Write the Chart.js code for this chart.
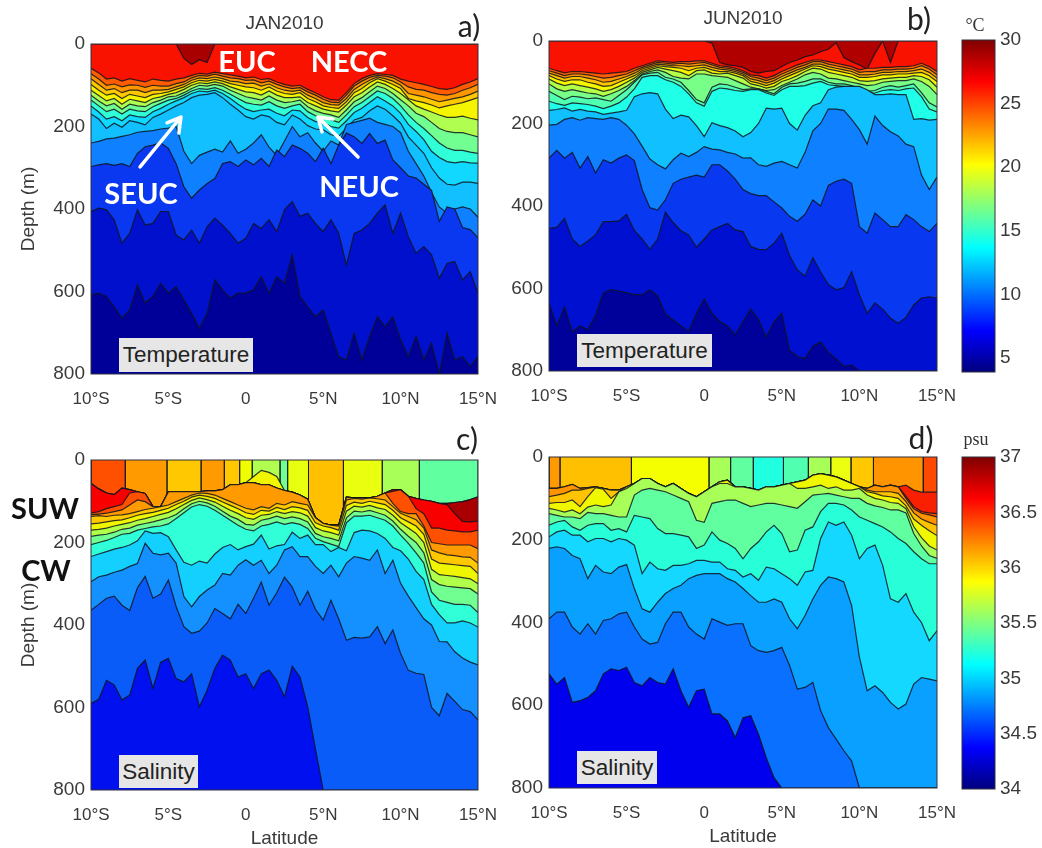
<!DOCTYPE html>
<html><head><meta charset="utf-8">
<script src="https://cdn.jsdelivr.net/npm/chart.js@4"></script>
<style>
html,body{margin:0;padding:0;background:#fff;overflow:hidden;width:1042px;height:848px}
canvas{position:absolute;filter:blur(0.4px)}
.t{position:absolute;white-space:nowrap;transform:translate(-50%,-50%);line-height:1}
.lab{font-family:Lato,"Noto Sans",sans-serif;font-weight:700}
.let{font-family:Lato,"Noto Sans",sans-serif;font-size:30px;color:#222}
.box{position:absolute;background:#e6e6e6;color:#222;font:22.5px "Liberation Sans",sans-serif;display:flex;align-items:center;justify-content:center}
.unit{font-family:"Liberation Serif",serif;font-size:18px;color:#333}
</style></head><body>
<canvas id="pa"></canvas><canvas id="pb"></canvas><canvas id="pc"></canvas><canvas id="pd"></canvas>
<canvas id="ct"></canvas><canvas id="cs"></canvas>
<div class="t let" style="left:469px;top:25px">a)</div>
<div class="t let" style="left:919px;top:18px">b)</div>
<div class="t let" style="left:467px;top:438px">c)</div>
<div class="t let" style="left:921px;top:437px">d)</div>
<div class="t unit" style="left:975px;top:25px">°C</div>
<div class="t unit" style="left:976px;top:439px">psu</div>
<div class="t lab" style="left:247px;top:60px;font-size:29px;color:#fff">EUC</div>
<div class="t lab" style="left:349px;top:60px;font-size:29px;color:#fff">NECC</div>
<div class="t lab" style="left:141px;top:192px;font-size:29px;color:#fff">SEUC</div>
<div class="t lab" style="left:359px;top:185px;font-size:29px;color:#fff">NEUC</div>
<div class="t lab" style="left:45px;top:507px;font-size:29px;color:#111">SUW</div>
<div class="t lab" style="left:46px;top:569px;font-size:29px;color:#111">CW</div>
<div class="box" style="left:119px;top:338px;width:134px;height:34px">Temperature</div>
<div class="box" style="left:577px;top:334px;width:135px;height:33px">Temperature</div>
<div class="box" style="left:119px;top:755px;width:79px;height:33px">Salinity</div>
<div class="box" style="left:577px;top:751px;width:80px;height:33px">Salinity</div>
<script>
const lats=[-10,-9.5,-9,-8.5,-8,-7.5,-7,-6.5,-6,-5.5,-5,-4.5,-4,-3.5,-3,-2.5,-2,-1.5,-1,-0.5,0,0.5,1,1.5,2,2.5,3,3.5,4,4.5,5,5.5,6,6.5,7,7.5,8,8.5,9,9.5,10,10.5,11,11.5,12,12.5,13,13.5,14,14.5,15];
const xTickLabels=['10°S','5°S','0','5°N','10°N','15°N'];
const yTicks=[0,200,400,600,800];
const tempTicks=[5,10,15,20,25,30];
const salTicks=[34,34.5,35,35.5,36,36.5,37];
const jetStops=[[0,'#00007f'],[0.125,'#0000ff'],[0.375,'#00ffff'],[0.625,'#ffff00'],[0.875,'#ff0000'],[1,'#7f0000']];

// JAN2010 temperature contours (depth, m), shallow to deep
const a0=[0,0,0,0,0,0,0,0,0,0, 0,0,35,50,38,45,0,0,0,0, 0,0,0,0,0,0,0,0,0,0, 0,0,0,0,0,0,0,0,0,0, 0,0,0,0,0,0,0,0,0,0, 0];
const a1=[59,70,85,82,90,84,88,92,85,88, 90,85,82,76,71,73,68,72,75,78, 82,80,86,84,92,98,102,100,110,118, 128,135,136,118,96,84,76,72,74,76, 85,90,94,98,103,108,110,106,98,92, 84];
const a2=[72,85,100,97,104,99,100,105,100,102, 102,96,92,82,76,78,73,78,82,84, 88,87,94,90,98,104,108,106,116,124, 134,141,142,124,102,90,81,76,78,82, 92,104,110,112,118,122,124,120,112,106, 98];
const a3=[84,98,112,108,118,112,112,118,112,112, 110,104,98,88,82,84,80,84,90,92, 96,95,102,97,106,112,115,112,124,132, 142,147,148,132,110,98,88,80,84,90, 100,120,124,128,134,140,136,132,128,122, 114];
const a4=[98,112,124,120,132,122,126,130,122,120, 116,110,104,94,88,90,86,90,96,100, 104,106,112,104,114,120,122,118,132,140, 150,154,156,140,118,108,94,84,90,98, 108,132,138,142,148,155,150,146,142,136, 130];
const a5=[112,125,138,132,146,134,138,142,132,128, 122,118,110,100,94,96,92,96,104,110, 116,118,124,114,124,130,130,128,142,150, 158,162,165,148,128,118,104,92,98,108, 120,135,150,158,165,172,178,178,175,180, 184];
const a6=[124,138,150,144,158,146,150,152,142,136, 128,126,118,108,100,102,98,102,112,120, 128,132,136,126,136,142,140,136,152,162, 168,172,178,160,140,130,116,102,108,120, 135,150,168,176,190,205,212,215,215,220, 225];
const a7=[136,150,164,158,170,158,162,164,152,144, 136,132,124,114,108,110,106,112,122,132, 142,146,148,140,150,156,150,146,164,174, 178,184,190,172,152,142,128,114,120,132, 150,172,190,205,222,240,252,258,258,262, 265];
const a8=[150,165,182,176,186,172,176,178,164,156, 146,138,130,120,114,116,112,120,132,146, 158,164,160,158,168,174,160,162,178,188, 190,200,204,186,166,156,142,128,138,150, 168,195,212,232,260,275,285,288,285,288, 289];
const a9=[170,182,205,192,202,186,190,196,178,170, 160,150,142,130,124,122,118,130,146,160, 176,182,172,176,190,196,172,182,198,206, 208,220,224,204,184,178,162,150,158,174, 192,225,245,265,300,325,340,342,335,335, 338];
const a10=[240,236,230,228,224,220,214,212,210,206, 204,200,260,290,270,262,255,262,235,265, 255,240,220,250,270,235,200,225,215,240, 260,235,245,195,190,185,180,190,195,200, 215,260,290,320,360,395,410,400,395,400, 420];
const a11=[297,293,290,294,290,297,265,249,245,240, 253,290,346,374,354,338,326,290,285,297, 281,293,277,297,257,273,245,253,265,285, 253,290,245,216,225,241,217,241,233,281, 300,320,325,340,355,430,395,400,445,450, 470];
const a12=[406,398,402,426,483,459,402,439,435,406, 406,463,475,451,483,443,422,439,459,483, 471,435,447,426,455,402,382,418,410,435, 455,426,459,536,459,451,435,410,390,459, 410,467,507,491,511,568,532,527,572,552, 604];
const a13=[608,604,612,637,665,645,584,628,612,580, 604,588,620,653,689,653,572,596,616,604, 604,596,564,604,564,580,511,612,637,661, 645,701,758,766,701,766,709,661,685,661, 717,758,709,766,725,800,701,766,758,782, 758];

// JUN2010 temperature contours
const b0=[0,0,0,0,0,0,0,0,0,0, 0,0,0,0,0,0,0,0,0,0, 0,5,52,58,60,64,74,78,74,72, 62,52,46,38,34,26,20,4,40,50, 58,68,30,0,52,0,0,0,0,0, 0];
const b1=[66,72,77,74,74,76,78,80,78,76, 74,66,60,54,48,50,52,50,50,48, 48,54,60,62,66,72,82,84,90,84, 74,66,58,52,46,46,50,54,58,62, 70,66,66,64,64,62,62,60,54,62, 74];
const b2=[72,78,84,80,80,82,86,90,88,84, 80,72,64,58,52,54,56,54,56,54, 52,58,64,66,70,76,86,90,96,90, 80,72,64,58,50,50,56,60,64,68, 76,74,74,70,70,68,68,66,60,68, 82];
const b3=[78,84,90,86,86,90,94,100,98,92, 86,78,68,62,56,58,60,60,62,60, 58,64,68,70,74,80,92,96,102,96, 86,78,70,64,56,56,62,66,70,74, 82,82,80,76,76,74,74,72,68,76, 90];
const b4=[84,92,98,94,94,100,104,110,108,100, 92,84,72,66,60,62,64,66,72,66, 64,70,74,74,78,84,98,102,108,102, 92,84,76,68,60,62,68,72,76,80, 88,88,86,82,82,80,80,78,76,84, 98];
const b5=[92,102,108,104,108,112,116,122,118,110, 100,90,76,70,64,68,72,76,84,72, 70,78,80,78,84,90,104,108,114,110, 98,92,84,74,66,68,76,80,84,88, 96,98,96,92,90,88,88,84,86,94, 112];
const b6=[104,116,122,118,122,126,128,134,128,120, 110,96,80,74,70,76,86,90,92,80, 80,84,86,88,96,104,112,116,120,118, 108,100,92,82,76,80,90,92,96,100, 104,108,106,100,98,96,96,92,98,110, 130];
const b7=[122,132,142,134,136,140,138,142,146,132, 118,100,82,78,76,88,92,100,120,142, 150,112,104,106,112,118,116,116,122,128, 112,104,102,98,92,92,100,104,104,108, 114,122,120,112,108,112,108,104,125,150, 160];
const b8=[146,152,156,150,152,154,158,164,158,150, 136,116,88,84,84,94,100,110,128,150, 158,122,114,116,120,122,118,118,126,132, 118,110,110,108,102,98,106,108,110,114, 120,126,126,120,118,120,116,114,135,165, 172];
const b9=[168,166,162,170,166,170,172,178,175,172, 168,135,128,125,128,165,188,180,184,205, 232,198,205,210,218,232,222,200,163,165, 163,200,216,180,157,150,118,112,110,110, 110,118,130,130,128,130,130,190,188,192, 190];
const b10=[204,202,190,186,192,186,188,190,186,190, 204,225,255,286,300,310,288,272,280,270, 256,262,264,270,274,284,283,300,304,296, 292,300,308,270,218,200,165,165,168,190, 215,250,182,205,220,230,250,256,325,360, 330];
const b11=[284,265,284,270,308,280,320,288,296,284, 276,290,360,404,410,385,345,335,330,325, 330,300,300,315,335,360,370,375,375,390, 405,425,437,420,385,400,350,340,335,345, 450,466,417,433,450,450,421,433,450,462, 442];
const b12=[454,452,430,480,498,485,470,438,438,436, 420,460,480,505,480,415,440,460,470,500, 480,458,450,442,458,462,498,505,506,490, 466,520,555,570,525,560,590,603,598,559, 615,660,635,650,672,684,670,640,623,620, 623];
const b13=[635,690,645,705,690,700,665,611,603,606, 610,615,615,603,618,662,676,690,704,660, 625,660,680,690,712,680,650,675,718,680, 660,750,765,770,740,730,755,770,789,785, 800,800,800,800,800,800,800,800,800,800, 800];

// JAN2010 salinity: surface blocks then contours
const cBlockEdges=[-10,-7.8,-5.1,-2.9,-1.4,-0.4,0.4,2.2,2.7,4.05,6.3,8.8,11.2,15];
const cBlockColors=['#ff5000','#ff9a00','#ffc800','#ff9a00','#ffc800','#f0ff00','#b0ff50','#70ff90','#e8ff10','#ffc000','#eaff10','#a8ff58','#60ffa0'];
const c0=[57,70,80,84,68,72,77,81,113,113, 77,77,77,77,77,75,75,72,60,60, 55,40,25,30,40,74,78,85,95,140, 154,158,158,90,92,92,92,88,80,72, 72,88,93,97,100,105,105,103,101,96, 89];
const c1=[57,70,80,84,68,72,77,81,113,113, 77,77,77,77,77,75,75,72,60,60, 55,55,60,60,68,74,78,85,95,140, 154,158,158,90,92,92,92,88,80,72, 72,88,93,97,100,105,105,103,101,96, 89];
const c2=[57,70,80,84,68,72,77,81,113,113, 77,77,77,77,77,75,75,72,60,60, 55,55,60,60,68,74,78,85,95,140, 154,158,158,90,92,92,92,88,80,72, 72,88,93,97,100,105,108,130,149,150, 148];
const c3=[129,125,118,113,108,80,77,81,113,113, 77,77,77,77,77,75,75,72,60,60, 55,55,60,60,68,74,78,85,95,140, 154,158,158,90,92,92,92,88,80,76, 72,88,118,130,165,165,170,172,174,174, 170];
const c4=[133,131,129,125,121,109,97,101,113,113, 77,77,77,77,77,75,75,72,60,60, 55,55,60,60,68,74,78,85,95,140, 154,158,158,90,92,92,92,88,80,105, 125,130,130,160,200,203,206,206,206,206, 215];
const c5=[137,135,137,134,133,130,125,120,117,113, 109,101,93,85,80,81,85,93,101,109, 117,121,113,117,105,109,101,105,109,140, 154,158,160,97,93,95,92,94,97,113, 129,137,145,165,218,225,230,232,235,236, 250];
const c6=[155,153,150,147,145,140,134,130,127,122, 117,108,100,90,85,88,93,102,110,118, 128,132,122,124,115,120,113,116,122,152, 160,164,170,110,102,105,100,104,108,122, 140,150,160,180,240,250,252,254,256,258, 275];
const c7=[170,168,165,160,156,152,146,142,137,132, 127,118,108,98,92,96,102,112,122,130, 140,144,134,132,125,130,125,128,136,164, 172,176,182,124,112,114,110,116,120,134, 152,165,178,200,265,278,280,282,285,288, 300];
const c8=[185,182,180,175,168,165,158,154,150,145, 140,132,118,106,100,104,112,124,136,144, 156,158,146,142,136,142,138,142,150,178, 186,190,196,140,124,126,122,128,134,148, 168,185,200,225,290,302,306,308,310,312, 325];
const c9=[205,200,195,188,180,178,170,166,162,160, 155,142,128,114,108,112,122,134,146,158, 168,172,160,156,150,156,152,156,166,190, 198,204,210,152,136,136,134,140,146,160, 182,202,225,250,320,340,345,350,350,352, 370];
const c10=[234,228,222,216,212,206,196,172,178,176, 186,218,248,255,245,250,228,212,205,218, 210,204,182,216,208,205,175,190,182,205, 205,222,212,220,176,170,172,178,190,212, 220,240,270,290,350,375,395,395,390,395, 405];
const c11=[295,283,279,272,267,258,251,202,226,230, 226,250,331,356,331,315,303,275,279,255, 242,255,243,275,255,218,210,234,234,258, 275,255,283,250,234,238,243,218,275,243, 299,330,358,385,400,440,441,465,480,490, 497];
const c12=[364,350,335,330,352,365,310,282,335,325, 291,355,404,420,415,395,360,372,385,350, 372,335,296,352,322,284,308,352,318,362, 388,340,385,437,430,432,429,404,445,412, 469,510,517,520,600,620,566,585,605,610, 630];
const c13=[590,580,534,545,582,570,505,485,554,490, 481,530,538,518,598,558,505,473,485,526, 518,554,518,509,534,574,500,526,598,700, 800,800,800,800,800,800,800,800,800,800, 800,800,800,800,800,800,800,800,800,800, 800];

// JUN2010 salinity: surface blocks then contours
const dBlockEdges=[-10,-9.3,-4.7,0.3,1.7,3.15,5.1,6.7,8.15,9.45,10.9,14.1,15];
const dBlockColors=['#ff9a00','#ffc000','#f5ff00','#a8ff58','#60ffa0','#20ffe0','#50ffb0','#a8ff58','#ecff10','#ffc800','#ff9400','#ff4800'];
const d0=[76,76,72,66,76,74,72,76,80,80, 72,64,52,52,64,72,64,76,88,96, 84,72,60,56,72,72,76,80,72,72, 68,64,60,56,44,40,44,48,56,64, 72,76,68,72,68,72,68,80,85,85, 85];
const d1=[76,76,72,66,76,74,72,76,80,80, 72,64,52,52,64,72,64,76,88,96, 84,72,60,56,72,72,76,80,72,72, 68,64,60,56,44,40,44,48,56,64, 72,76,68,72,68,72,95,120,132,135, 137];
const d2=[76,76,72,66,76,74,72,76,80,80, 72,64,52,52,64,72,64,76,88,96, 84,72,60,56,72,72,76,80,72,72, 68,64,60,56,44,40,44,48,56,64, 72,76,68,72,68,72,100,125,136,140, 145];
const d3=[96,92,88,80,80,76,72,76,80,80, 72,64,52,52,64,72,64,76,88,96, 84,72,60,56,72,72,76,80,72,72, 68,64,60,56,44,40,44,48,56,64, 72,80,84,84,84,88,108,135,150,158, 165];
const d4=[112,110,110,104,120,96,74,78,100,84, 72,64,52,52,64,72,64,76,88,96, 84,72,60,56,72,72,76,80,72,72, 68,64,60,56,44,40,44,48,56,64, 72,84,88,94,96,100,118,150,165,178, 190];
const d5=[124,128,133,128,137,121,116,120,116,84, 76,64,52,52,64,72,64,76,88,96, 84,72,64,64,72,72,76,80,72,72, 68,64,76,76,72,68,76,72,80,80, 76,92,100,104,110,112,125,168,195,215, 225];
const d6=[137,141,145,145,149,134,137,137,141,145, 145,92,80,76,80,84,92,100,108,153, 158,112,108,104,104,112,120,116,112,112, 116,120,124,108,92,90,88,92,96,100, 100,112,118,122,128,128,135,185,215,238, 245];
const d7=[165,157,153,169,177,165,161,161,177,173, 181,141,145,149,173,185,185,189,193,221, 213,181,201,209,221,246,221,205,181,165, 185,229,225,177,169,132,112,112,116,128, 145,153,161,169,181,197,209,229,246,258, 258];
const d8=[193,181,177,189,189,205,197,197,205,197, 201,213,282,254,270,274,262,262,258,250, 250,254,254,270,274,290,282,298,266,270, 282,294,310,278,274,197,157,165,157,189, 246,221,213,262,343,351,330,375,400,444, 420];
const d9=[221,217,221,238,246,294,262,278,282,266, 260,318,367,375,351,330,318,310,294,286, 282,282,282,294,302,318,335,351,351,343, 351,391,415,383,343,310,290,294,302,359, 484,565,553,569,593,609,597,549,533,537, 541];
const d10=[391,375,375,411,428,403,428,395,391,379, 375,411,440,452,448,403,375,375,411,428, 440,391,399,407,403,403,456,468,472,468, 460,504,561,557,545,613,654,682,710,735, 800,800,800,800,800,800,800,800,800,800, 800];
const d11=[524,549,533,593,589,581,565,524,512,516, 508,545,553,533,545,549,512,565,605,565, 561,621,621,638,678,630,625,670,727,775, 800,800,800,800,800,800,800,800,800,800, 800,800,800,800,800,800,800,800,800,800, 800];

// white annotation arrows on panel a (latitude, depth)
const arrowSeuc=[[-6.83,298],[-4.19,177],[-5.09,191],[-4.19,177],[-4.32,216]];
const arrowNeuc=[[7.25,274],[4.66,177],[5.63,182],[4.66,177],[4.92,213]];

const tempColorsA=['#fa1200','#ff5c00','#ff9600','#ffc800','#f5f500','#b0ff50','#70ff90','#30ffd8','#10d8ff','#12c0ff','#0f80ff','#0a38f0','#0010cc','#000098'];
const tempColorsB=['#fa1200','#ff5a00','#ff9400','#ffc400','#f5f500','#b4ff48','#78ff88','#50ffb0','#20ffe8','#10c0ff','#0f80ff','#0838f0','#0010d0','#00009a'];
const salColorsC=['#f0f500','#a80000','#f80000','#ff5000','#ff9a00','#ffc800','#f0f500','#b0ff48','#70ff90','#30ffd8','#14d0ff','#1490ff','#0a5cf8','#0010ee'];
const salColorsD=['#f82000','#ff5000','#ff9400','#ffc400','#f0f800','#a8ff58','#60ffa0','#28ffd8','#14d8ff','#0aa0ff','#0a70ff','#0000ee'];

const contourLine='rgba(15,20,30,0.85)';
function contourSets(rows,colors){
  const out=rows.map((r,i)=>({type:'line',data:r.map((v,k)=>({x:lats[k],y:v})),backgroundColor:colors[i],borderColor:contourLine,borderWidth:1.2,pointRadius:0,tension:0,fill:{value:800}}));
  return out.reverse();
}
function blockSets(edges,colors){
  return colors.map((c,i)=>({type:'line',data:[{x:edges[i],y:0},{x:edges[i],y:200},{x:edges[i+1],y:200},{x:edges[i+1],y:0}],backgroundColor:c,borderColor:contourLine,borderWidth:1,pointRadius:0,tension:0,fill:{value:0}}));
}
function arrowSet(pts){
  return {type:'line',data:pts.map(p=>({x:p[0],y:p[1]})),borderColor:'#fff',borderWidth:3.5,pointRadius:0,tension:0,fill:false,borderCapStyle:'round',borderJoinStyle:'round'};
}
const frame={id:'frame',
  beforeDraw(ch,a,o){if(o.top){const c=ch.chartArea;ch.ctx.fillStyle=o.top;ch.ctx.fillRect(c.left,c.top,c.width,c.height);}},
  afterDraw(ch){const c=ch.chartArea,x=ch.ctx;x.save();x.strokeStyle='#30303c';x.lineWidth=1;x.strokeRect(c.left,c.top,c.width,c.height);x.restore();}
};
const sans='"Liberation Sans",sans-serif';
const TOPM=40,RIGHTM=44;
function panel(id,cfg){
  const el=document.getElementById(id);
  const W=cfg.right+RIGHTM-cfg.cLeft,H=TOPM+cfg.h+60;
  el.width=W;el.height=H;
  el.style.cssText=`left:${cfg.cLeft}px;top:${cfg.top-TOPM}px;width:${W}px;height:${H}px`;
  new Chart(el,{type:'line',data:{datasets:cfg.sets},plugins:[frame],options:{
    responsive:false,animation:false,
    layout:{autoPadding:false,padding:{top:cfg.title?0:TOPM,right:RIGHTM,left:0,bottom:0}},
    plugins:{legend:{display:false},tooltip:{enabled:false},frame:{top:cfg.bg||null},
      title:{display:!!cfg.title,text:cfg.title||'',fullSize:false,color:'#3a3a3a',font:{family:sans,size:19,weight:'normal',lineHeight:1.2},padding:{top:cfg.titleTop||0,bottom:17.2-(cfg.titleTop||0)}}},
    scales:{
      x:{type:'linear',min:-10,max:15,afterFit(s){s.height=60;},grid:{display:false,drawTicks:false},border:{display:false},
        ticks:{stepSize:5,padding:15,color:'#3a3a3a',font:{family:sans,size:17},autoSkip:false,maxRotation:0,callback:(v,i)=>xTickLabels[i]},
        title:{display:!!cfg.xTitle,text:'Latitude',color:'#3a3a3a',font:{family:sans,size:19,lineHeight:1.2},padding:{top:5,bottom:0}}},
      y:{type:'linear',reverse:true,min:0,max:800,afterFit(s){s.width=cfg.left-cfg.cLeft;},
        afterBuildTicks(s){s.ticks=yTicks.map(v=>({value:v}));},grid:{display:false,drawTicks:false},border:{display:false},
        ticks:{padding:6,color:'#3a3a3a',font:{family:sans,size:19}},
        title:{display:!!cfg.yTitle,text:'Depth (m)',color:'#3a3a3a',font:{family:sans,size:19,lineHeight:1.2},padding:{top:17,bottom:0}}}
    }}});
}
panel('pa',{cLeft:0,left:91,right:478,top:44,h:330,title:'JAN2010',titleTop:8.6,yTitle:true,bg:'#a80000',
  sets:[arrowSet(arrowSeuc),arrowSet(arrowNeuc),...contourSets([a0,a1,a2,a3,a4,a5,a6,a7,a8,a9,a10,a11,a12,a13],tempColorsA)]});
panel('pb',{cLeft:500,left:549,right:937,top:41,h:330,title:'JUN2010',titleTop:6.6,bg:'#b00000',
  sets:contourSets([b0,b1,b2,b3,b4,b5,b6,b7,b8,b9,b10,b11,b12,b13],tempColorsB)});
panel('pc',{cLeft:0,left:91,right:478,top:460,h:330,yTitle:true,xTitle:true,
  sets:[...contourSets([c0,c1,c2,c3,c4,c5,c6,c7,c8,c9,c10,c11,c12,c13],salColorsC),...blockSets(cBlockEdges,cBlockColors)]});
panel('pd',{cLeft:500,left:549,right:937,top:457,h:331,xTitle:true,
  sets:[...contourSets([d0,d1,d2,d3,d4,d5,d6,d7,d8,d9,d10,d11],salColorsD),...blockSets(dBlockEdges,dBlockColors)]});

function colorbar(id,top,h,min,max,ticks,name){
  const pad=20;
  const el=document.getElementById(id),W=100,H=h+2*pad;
  el.width=W;el.height=H;
  el.style.cssText=`left:940px;top:${top-pad}px;width:${W}px;height:${H}px`;
  new Chart(el,{type:'bar',data:{labels:[name],datasets:[{data:[[min,max]],barPercentage:1,categoryPercentage:1,
    backgroundColor(c){
      const a=c.chart.chartArea;if(!a)return '#888';
      const g=c.chart.ctx.createLinearGradient(0,a.bottom,0,a.top);
      jetStops.forEach(s=>g.addColorStop(s[0],s[1]));return g;}}]},
    plugins:[frame],options:{responsive:false,animation:false,
    layout:{autoPadding:false,padding:{left:22,top:pad,bottom:pad,right:0}},
    plugins:{legend:{display:false},tooltip:{enabled:false},frame:{}},
    scales:{x:{display:false},
      y:{position:'right',min,max,afterFit(s){s.width=45;},afterBuildTicks(s){s.ticks=ticks.map(v=>({value:v}));},grid:{display:false,drawTicks:false},border:{display:false},
        ticks:{padding:5,color:'#3a3a3a',font:{family:sans,size:19},callback:v=>String(v)}}}}});
}
colorbar('ct',40,332,3.9,30,tempTicks,'°C');
colorbar('cs',457,332,34,37,salTicks,'psu');
</script>
</body></html>
